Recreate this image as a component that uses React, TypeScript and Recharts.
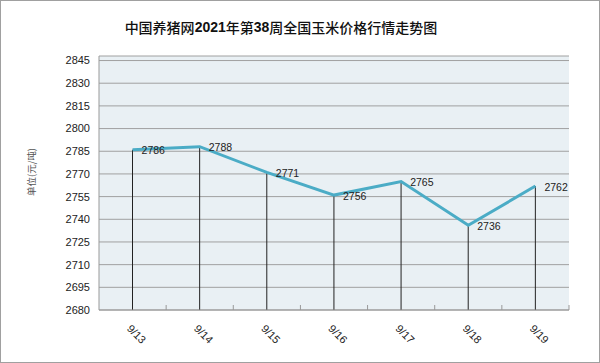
import { ComposedChart, Line, Bar, XAxis, YAxis, CartesianGrid, LabelList } from 'recharts'

const days = ['9/13', '9/14', '9/15', '9/16', '9/17', '9/18', '9/19']
const prices = [2786, 2788, 2771, 2756, 2765, 2736, 2762]
const yTicks = [2680, 2695, 2710, 2725, 2740, 2755, 2770, 2785, 2800, 2815, 2830, 2845]

const data = days.map((d, i) => ({ day: d, price: prices[i] }))

const numFont = '"Liberation Sans", Arial, sans-serif'
const cjkFont = '"Noto Sans CJK SC", sans-serif'

function DayTick(props: any) {
  const { x, y, payload } = props
  const half = payload && payload.offset ? payload.offset : 33.6
  return (
    <g>
      <line x1={x + half} y1={y} x2={x + half} y2={y - 5} stroke="#999" strokeWidth={1} />
      <text
        x={0}
        y={0}
        transform={`translate(${x + 4}, ${y + 24}) rotate(45)`}
        textAnchor="middle"
        dominantBaseline="central"
        fontSize={11}
        fontFamily={numFont}
        fill="#222"
      >
        {payload.value}
      </text>
    </g>
  )
}

function PriceLabel(props: any) {
  const { x, y, value } = props
  return (
    <text
      x={x + 9}
      y={y + 0.5}
      dominantBaseline="central"
      fontSize={10.5}
      fontFamily={numFont}
      fill="#222"
    >
      {value}
    </text>
  )
}

export default function App() {
  return (
    <div style={{ position: 'absolute', left: 0, top: 0, width: 600, height: 363, background: '#fff' }}>
      <ComposedChart width={600} height={363} data={data} margin={{ top: 56, right: 31, left: 0, bottom: 0 }}>
        <text
          x={281}
          y={27}
          textAnchor="middle"
          dominantBaseline="central"
          fontSize={14}
          fontFamily={cjkFont}
          fill="#111"
        >
          <tspan fontWeight={500}>中国养猪网</tspan>
          <tspan fontWeight="bold" fontFamily={numFont}>2021</tspan>
          <tspan fontWeight={500}>年第</tspan>
          <tspan fontWeight="bold" fontFamily={numFont}>38</tspan>
          <tspan fontWeight={500}>周全国玉米价格行情走势图</tspan>
        </text>
        <text
          x={0}
          y={0}
          transform="translate(31, 172) rotate(-90)"
          textAnchor="middle"
          dominantBaseline="central"
          fontSize={9.5}
          fontFamily={cjkFont}
          fill="#555"
        >
          单位(元/吨)
        </text>
        <CartesianGrid vertical={false} stroke="#a0a0a0" fill="#e9f0f4" />
        <XAxis
          dataKey="day"
          height={53}
          tickSize={0}
          tickMargin={0}
          tickLine={false}
          axisLine={{ stroke: '#999' }}
          tick={<DayTick />}
          interval={0}
        />
        <YAxis
          width={99}
          domain={[2680, 2848]}
          ticks={yTicks}
          interval={0}
          tickLine={false}
          tickSize={0}
          tickMargin={9}
          axisLine={{ stroke: '#999' }}
          tick={{ fontSize: 11, fontFamily: numFont, fill: '#222' }}
        />
        <Bar dataKey="price" barSize={1} fill="#222" isAnimationActive={false} />
        <Line
          dataKey="price"
          type="linear"
          stroke="#4bacc6"
          strokeWidth={3}
          dot={false}
          activeDot={false}
          isAnimationActive={false}
        >
          <LabelList dataKey="price" content={<PriceLabel />} />
        </Line>
      </ComposedChart>
      <div
        style={{
          position: 'absolute',
          left: 0,
          top: 0,
          width: 600,
          height: 363,
          boxSizing: 'border-box',
          border: '1px solid #a0a0a0',
          pointerEvents: 'none',
        }}
      />
    </div>
  )
}
